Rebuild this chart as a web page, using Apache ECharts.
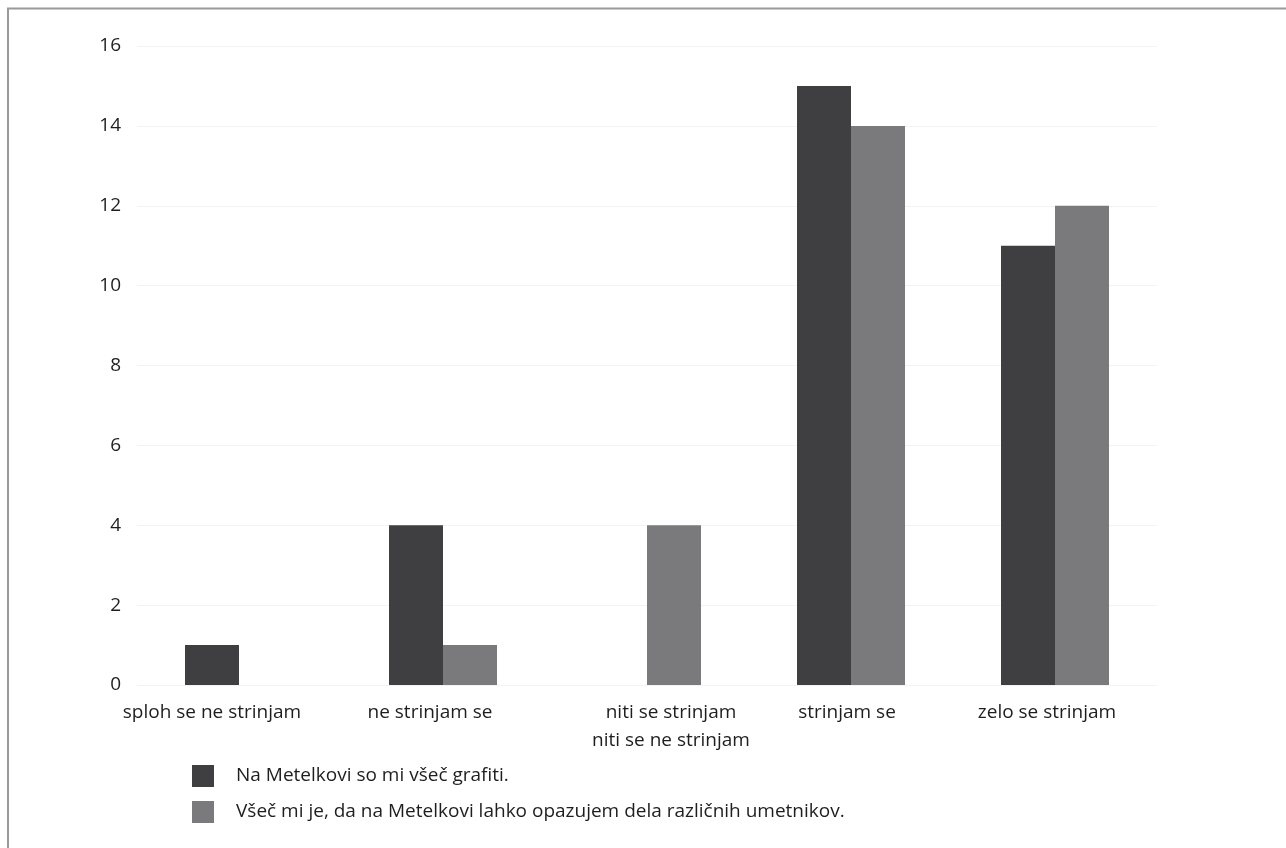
<!DOCTYPE html>
<html>
<head>
<meta charset="utf-8">
<script src="https://cdn.jsdelivr.net/npm/echarts@6/dist/echarts.min.js"></script>
<style>
  html, body { margin: 0; padding: 0; background: #ffffff; }
  #chart { width: 1286px; height: 848px; }
</style>
</head>
<body>
<div id="chart"></div>
<script>
// Survey answers (Likert scale) and number of respondents per answer
const categories = [
  'sploh se ne strinjam',
  'ne strinjam se',
  'niti se strinjam\nniti se ne strinjam',
  'strinjam se',
  'zelo se strinjam'
];
const seriesNames = [
  'Na Metelkovi so mi všeč grafiti.',
  'Všeč mi je, da na Metelkovi lahko opazujem dela različnih umetnikov.'
];
const grafiti = [1, 4, 0, 15, 11];
const umetniki = [0, 1, 4, 14, 12];
const yTicks = { min: 0, max: 16, step: 2 };

const FONT = '"Open Sans", "Noto Sans", sans-serif';

// horizontal nudge of each category label (px, + moves right)
const labelShift = [-27, -13, 24, -4, -8];
const labelRich = {};
labelShift.forEach((s, i) => {
  labelRich['c' + i] = {
    fontFamily: FONT, fontSize: 19, color: '#1e1e1e', lineHeight: 28,
    padding: s >= 0 ? [0, 0, 0, 2 * s] : [0, -2 * s, 0, 0]
  };
});

const chart = echarts.init(document.getElementById('chart'), null, { renderer: 'canvas' });

chart.setOption({
  backgroundColor: '#ffffff',
  animation: false,
  textStyle: { fontFamily: FONT },
  grid: { left: 137, right: 129, top: 46, bottom: 163, containLabel: false },
  graphic: [
    // frame lines along the top and left edges
    { type: 'line', shape: { x1: 7, y1: 8.5, x2: 1286, y2: 8.5 }, style: { stroke: '#9a9a9a', lineWidth: 2 } },
    { type: 'line', shape: { x1: 8, y1: 8, x2: 8, y2: 848 }, style: { stroke: '#9a9a9a', lineWidth: 2 } }
  ],
  legend: {
    orient: 'vertical',
    left: 187,
    top: 760,
    itemWidth: 22,
    itemHeight: 22,
    itemGap: 14,
    icon: 'rect',
    textStyle: { fontFamily: FONT, fontSize: 19, color: '#1e1e1e', padding: [0, 0, 0, 17] },
    data: seriesNames
  },
  xAxis: {
    type: 'category',
    data: categories,
    axisLine: { show: false },
    axisTick: { show: false },
    axisLabel: {
      fontFamily: FONT, fontSize: 19, color: '#1e1e1e',
      margin: 14, lineHeight: 28, interval: 0,
      rich: labelRich,
      formatter: (value, idx) => value.split('\n').map(line => '{c' + idx + '|' + line + '}').join('\n')
    }
  },
  yAxis: {
    type: 'value',
    min: yTicks.min,
    max: yTicks.max,
    interval: yTicks.step,
    axisLine: { show: false },
    axisTick: { show: false },
    axisLabel: { fontFamily: FONT, fontSize: 19, color: '#1e1e1e', margin: 16 },
    splitLine: { show: true, lineStyle: { color: '#f3f3f3', width: 1 } }
  },
  series: [
    {
      name: seriesNames[0], type: 'bar', data: grafiti,
      barWidth: 54, barGap: '0%',
      itemStyle: { color: '#3f3f41' }
    },
    {
      name: seriesNames[1], type: 'bar', data: umetniki,
      barWidth: 54, barGap: '0%',
      itemStyle: { color: '#7a7a7c' }
    }
  ]
});
</script>
</body>
</html>
